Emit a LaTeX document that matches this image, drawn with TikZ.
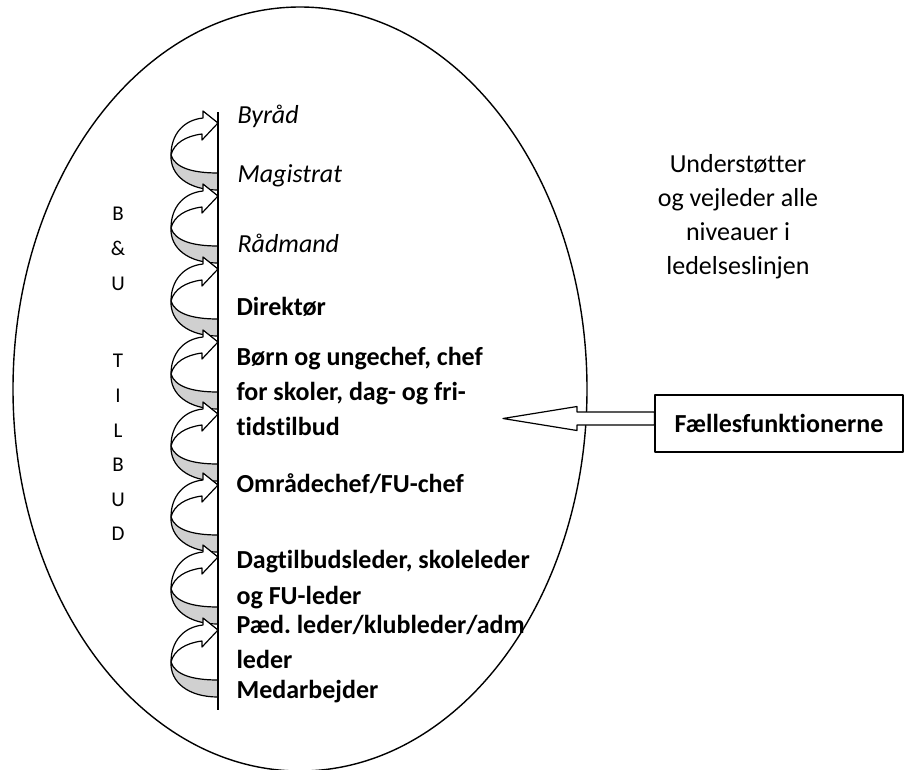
\documentclass[tikz,border=0pt]{standalone}
\usepackage{fontspec}
\setmainfont[Ligatures=NoCommon]{Carlito}
\frenchspacing
\definecolor{bandgray}{RGB}{208,208,208}
\newcommand\bendarrow[1]{%
  \begin{scope}[shift={(218,#1)}]
    \filldraw[fill=bandgray] (-47,32) .. controls (-43,45) and (-25,50) .. (0,50)
      -- (0,67) .. controls (-30,67) and (-48,52) .. (-47,32) -- cycle;
    \filldraw[fill=white] (-47,32) .. controls (-47,12) and (-35,-3) .. (-15,-5)
      -- (-15,-12) -- (0,0) -- (-16,17) -- (-16,11)
      .. controls (-32,13) and (-44,20) .. (-47,32) -- cycle;
  \end{scope}}
\begin{document}
\begin{tikzpicture}[x=1pt,y=-1pt,line width=1.2pt,line join=round,
  txt/.style={inner sep=0pt,anchor=base west,font=\fontsize{26}{31}\selectfont},
  itxt/.style={txt,font=\fontsize{26}{31}\selectfont\itshape},
  btxt/.style={txt,font=\fontsize{26}{31}\selectfont\bfseries},
  ctxt/.style={inner sep=0pt,anchor=base,font=\fontsize{26}{31}\selectfont},
  letter/.style={inner sep=0pt,anchor=base,font=\fontsize{21}{25}\selectfont},
  boxnode/.style={draw,inner sep=0pt,minimum width=248pt,minimum height=57pt,
    font=\fontsize{26}{31}\selectfont\bfseries}]
\useasboundingbox (0,0) rectangle (904,769);
\clip (0,0) rectangle (904,769);
\fill[white] (0,0) rectangle (904,769);
% ellipse
\draw[line width=1.4pt] (300,389) ellipse [x radius=287, y radius=382];
% curved arrows
\foreach \t in {123,196,269,342,414,485,557,630} {\bendarrow{\t}}
% vertical line
\coordinate (ltop) at (218,112);
\coordinate (lbot) at (218,710);
\draw (ltop) -- (lbot);
% level texts
\node[itxt] (byraad) at (237,123) {Byråd};
\node[itxt] (magistrat) at (237,182) {Magistrat};
\node[itxt] (raadmand) at (237,252) {Rådmand};
\node[btxt] (direktoer) at (236,315) {Direktør};
\node[btxt] (boern1) at (236,365) {Børn og ungechef, chef};
\node[btxt] (boern2) at (236,400) {for skoler, dag- og fri-};
\node[btxt] (boern3) at (236,435) {tidstilbud};
\node[btxt] (omraade) at (236,492) {Områdechef/FU-chef};
\node[btxt] (dag1) at (236,568) {Dagtilbudsleder, skoleleder};
\node[btxt] (dag2) at (236,604) {og FU-leder};
\node[btxt] (paed1) at (236,633) {Pæd. leder/klubleder/adm};
\node[btxt] (paed2) at (236,668) {leder};
\node[btxt] (medarb) at (236,698) {Medarbejder};
% vertical letters
\foreach \l/\y [count=\i] in {B/220,\&/255,U/290,T/367,I/402,L/437,B/471,U/506,D/540}
  {\node[letter] (v\i) at (118,\y) {\l};}
% right text
\node[ctxt] (r1) at (738,172) {Understøtter};
\node[ctxt] (r2) at (738,206) {og vejleder alle};
\node[ctxt] (r3) at (738,240) {niveauer i};
\node[ctxt] (r4) at (738,274) {ledelseslinjen};
% box and block arrow
\node[boxnode] (faelles) at (779,423.5) {Fællesfunktionerne};
\coordinate (atip) at (503,418.5);
\filldraw[fill=white] ([yshift=11.5pt]faelles.west) -- (577,412) -- (577,406.5) -- (atip)
  -- (577,430.5) -- (577,425) -- ([yshift=-1.5pt]faelles.west) -- cycle;
\end{tikzpicture}
\end{document}
